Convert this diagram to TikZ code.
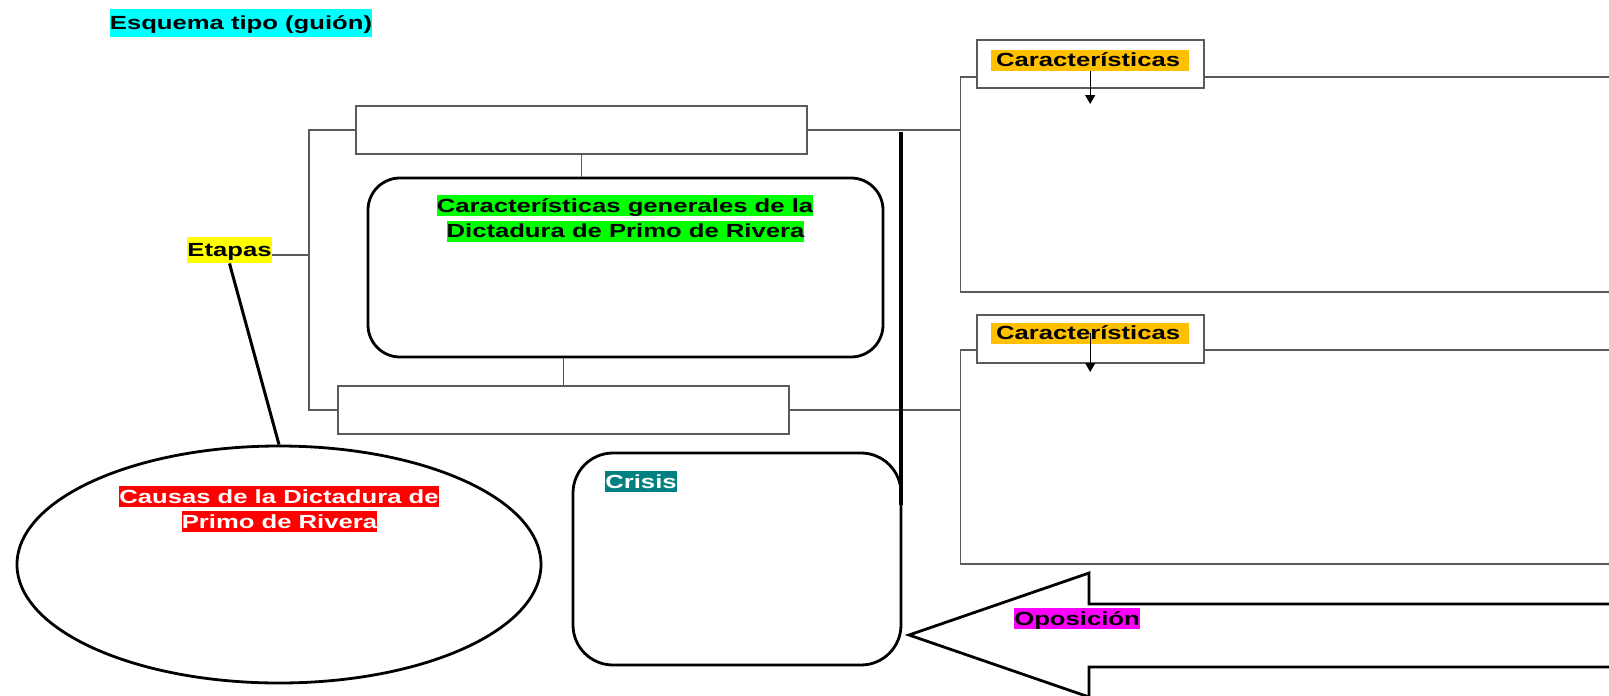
\documentclass[tikz,border=0pt]{standalone}
\usepackage{fontspec}
\setmainfont{Liberation Sans}[FakeStretch=1.35]
\usetikzlibrary{arrows.meta, positioning, shapes.geometric, calc}
\definecolor{karorange}{RGB}{255,192,0}
\definecolor{linegray}{RGB}{90,90,90}
\definecolor{hlcyan}{RGB}{0,255,255}
\definecolor{hlyellow}{RGB}{255,255,0}
\definecolor{hlgreen}{RGB}{0,255,0}
\definecolor{hlred}{RGB}{255,0,0}
\definecolor{hlteal}{RGB}{0,128,128}
\definecolor{hlmagenta}{RGB}{255,0,255}
\tikzset{%
	box/.style={draw=linegray, line width=1.3pt, rectangle, inner sep=0pt, fill=white},
	panel/.style={draw, line width=2.8pt, rectangle, rounded corners=32pt, inner sep=0pt},
	bubble/.style={draw, line width=2.8pt, ellipse, inner sep=0pt},
	hilite/.style={inner xsep=0pt, inner ysep=0.25pt, text height=17pt, text depth=3.5pt,%
		font=\fontsize{19}{25}\selectfont\bfseries},
	kar/.style={hilite, fill=karorange, anchor=west, text width=188pt, inner xsep=5pt, align=left},
	link/.style={draw=linegray, line width=1.3pt},
	heavy/.style={line width=3.5pt},
	pointer/.style={-{Triangle[width=10pt,length=9pt]}, line width=1.3pt}
}

\begin{document}
\begin{tikzpicture}[x=1pt, y=-1pt]
	\useasboundingbox (0,0) rectangle (1609,696);
	\clip (0,0) rectangle (1609,696);

	\node[hilite, fill=hlcyan, inner ysep=3.5pt] (title) at (241,23) {Esquema tipo (guión)};

	% etapas
	\node[box, minimum width=451, minimum height=48] (stage1) at (581.5,130) {};
	\node[panel, minimum width=515, minimum height=179] (general) at (625.5,267.5) {};
	\node[hilite, fill=hlgreen] (gen1) at (625,205.5) {Características generales de la};
	\node[hilite, fill=hlgreen] (gen2) at (625.5,231) {Dictadura de Primo de Rivera};
	\node[box, minimum width=451, minimum height=48] (stage2) at (563.5,410) {};
	\node[hilite, fill=hlyellow, inner ysep=3pt] (etapas) at (229.5,250) {Etapas};
	\coordinate (fork) at (309,255);

	\draw[link] (stage1.south) -- (stage1.south |- general.north);
	\draw[link] (stage2.north) -- (stage2.north |- general.south);
	\draw[link] (stage1.west) -| (fork) |- (stage2.west);
	\draw[link] ($(etapas.east)+(0,5)$) -- (fork);

	% right panels
	\node[box, minimum width=700, minimum height=215, anchor=west] (part1) at (960,184.5) {};
	\node[box, minimum width=700, minimum height=214, anchor=west] (part2) at (960,457) {};
	\node[box, minimum width=227, minimum height=48] (kar1) at (1090.5,64) {};
	\node[kar] (kar1lbl) at (991,60) {Características};
	\node[box, minimum width=227, minimum height=48] (kar2) at (1090.5,339) {};
	\node[kar] (kar2lbl) at (991,333) {Características};
	\coordinate (kar1tip) at (1088,104);
	\coordinate (kar2tip) at (1088,372);
	\draw[pointer] (kar1lbl.south) -- (kar1lbl.south |- kar1tip);
	\draw[pointer] (kar2lbl.center) -- (kar2lbl.center |- kar2tip);

	\draw[link] (stage1.east) -- (stage1.east -| part1.west);
	\draw[link] (stage2.east) -- (stage2.east -| part2.west);

	% causas y crisis
	\node[bubble, minimum width=524, minimum height=237] (causas) at (279,564.5) {};
	\node[hilite, fill=hlred, text=white] (causas1) at (279,496.5) {Causas de la Dictadura de};
	\node[hilite, fill=hlred, text=white] (causas2) at (279.5,521.5) {Primo de Rivera};
	\draw[heavy, line width=3pt] (etapas.south) -- (causas.north);

	\node[panel, rounded corners=40pt, minimum width=328, minimum height=212] (crisis) at (737,559) {};
	\node[hilite, fill=hlteal, text=white] (crisislbl) at (641,481.5) {Crisis};

	\coordinate (spineT) at (901,132);
	\coordinate (spineB) at (901,505);
	\draw[heavy] (spineT) -- (spineB);

	% oposicion
	\coordinate (opptip) at (909,635);
	\draw[line width=2.8pt] (opptip) -- (1089,573) -- (1089,604) -- (1640,604)
		-- (1640,667) -- (1089,667) -- (1089,697) -- cycle;
	\node[hilite, fill=hlmagenta] (opp) at (1077,618.5) {Oposición};
\end{tikzpicture}
\end{document}
